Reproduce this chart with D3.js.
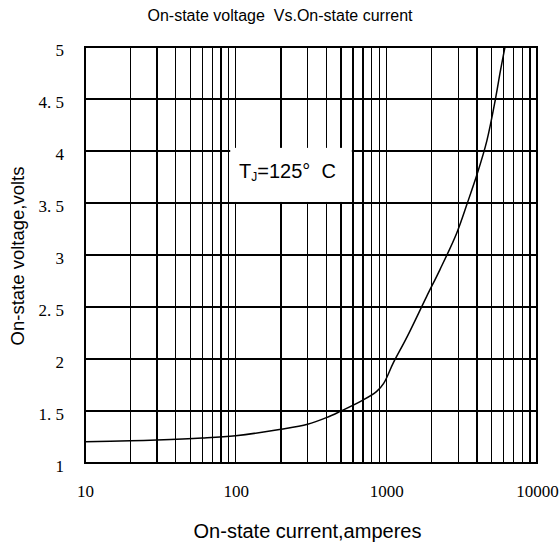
<!DOCTYPE html>
<html>
<head>
<meta charset="utf-8">
<script src="https://cdn.jsdelivr.net/npm/d3@7"></script>
<style>
  html, body { margin: 0; padding: 0; background: #fff; }
  svg { display: block; }
</style>
</head>
<body>
<svg id="chart" width="560" height="548"></svg>
<script>
// ---- data ----
const current = [10, 20, 30, 60, 100, 200, 300, 400, 500, 670, 860, 960, 1110, 1370, 1850, 2270, 2930, 3450, 4050, 4650, 5300, 5700, 6130];
const voltage = [1.205, 1.214, 1.221, 1.24, 1.263, 1.324, 1.372, 1.436, 1.5, 1.59, 1.686, 1.766, 1.96, 2.21, 2.6, 2.86, 3.21, 3.5, 3.8, 4.1, 4.5, 4.76, 5.0];
const xTickValues = [10, 100, 1000, 10000];
const xTickLabels = ["10", "100", "1000", "10000"];
const yTickValues = [1, 1.5, 2, 2.5, 3, 3.5, 4, 4.5, 5];
const yTickLabels = ["1", "1. 5", "2", "2. 5", "3", "3. 5", "4", "4. 5", "5"];
const titleText = "On-state voltage  Vs.On-state current";
const xTitle = "On-state current,amperes";
const yTitle = "On-state voltage,volts";
const annotation = { main: "T", sub: "J", rest: "=125\u00B0  C" };

// ---- layout ----
const svg = d3.select("#chart");
const L = 85, R = 537, T = 47, B = 463;

const x = d3.scaleLog().domain([10, 10000]).range([L, R]);
const y = d3.scaleLinear().domain([1, 5]).range([B, T]);

// minor grid values (log decades)
const xGrid = [];
for (let d = 10; d < 10000; d *= 10) {
  for (let k = 1; k <= 9; k++) xGrid.push(d * k);
}
xGrid.push(10000);

const grid = svg.append("g").attr("stroke", "#000").attr("stroke-width", 1.3).attr("shape-rendering", "crispEdges");
grid.selectAll("line.v").data(xGrid).join("line")
  .attr("x1", d => x(d)).attr("x2", d => x(d))
  .attr("y1", T).attr("y2", B);
grid.selectAll("line.h").data(yTickValues).join("line")
  .attr("x1", L).attr("x2", R)
  .attr("y1", d => y(d)).attr("y2", d => y(d));

// annotation box (white background hiding grid)
svg.append("rect")
  .attr("x", x(92)).attr("y", y(4.03))
  .attr("width", x(590) - x(92)).attr("height", y(3.51) - y(4.03))
  .attr("fill", "#fff");

// frame
svg.append("rect")
  .attr("x", L).attr("y", T).attr("width", R - L).attr("height", B - T)
  .attr("fill", "none").attr("stroke", "#000").attr("stroke-width", 1.3)
  .attr("shape-rendering", "crispEdges");

// curve
const pts = current.map((c, i) => [c, voltage[i]]);
svg.append("path")
  .datum(pts)
  .attr("fill", "none").attr("stroke", "#000").attr("stroke-width", 1.5)
  .attr("d", d3.line().x(d => x(d[0])).y(d => y(d[1])).curve(d3.curveCatmullRom.alpha(0.5)));

// annotation text
const ann = svg.append("text")
  .attr("x", 239).attr("y", 178)
  .attr("font-family", "Liberation Sans, Arial, sans-serif")
  .attr("font-size", 20).attr("fill", "#000")
  .style("white-space", "pre");
ann.append("tspan").text(annotation.main);
ann.append("tspan").attr("font-size", 12).attr("dy", 3).text(annotation.sub);
ann.append("tspan").attr("dy", -3).text(annotation.rest);

// axes tick labels
const xAxis = d3.axisBottom(x).tickValues(xTickValues).tickSize(0)
  .tickFormat((d, i) => xTickLabels[i]);
const gx = svg.append("g").attr("transform", `translate(0,${B})`).call(xAxis);
gx.select(".domain").remove();
gx.selectAll("text")
  .attr("font-family", "Liberation Serif, Times New Roman, serif")
  .attr("font-size", 17).attr("fill", "#000")
  .attr("dy", null).attr("y", 34);

const yAxis = d3.axisLeft(y).tickValues(yTickValues).tickSize(0)
  .tickFormat((d, i) => yTickLabels[i]);
const gy = svg.append("g").attr("transform", `translate(64,0)`).call(yAxis);
gy.select(".domain").remove();
gy.selectAll("text")
  .attr("font-family", "Liberation Serif, Times New Roman, serif")
  .attr("font-size", 17).attr("fill", "#000")
  .attr("x", 0).attr("dy", "0.32em")
  .attr("transform", "translate(0,3)")
  .style("white-space", "pre");

// titles
svg.append("text")
  .attr("x", 280).attr("y", 21).attr("text-anchor", "middle")
  .attr("font-family", "Liberation Sans, Arial, sans-serif")
  .attr("font-size", 16).style("white-space", "pre")
  .text(titleText);

svg.append("text")
  .attr("x", 307.5).attr("y", 538).attr("text-anchor", "middle")
  .attr("font-family", "Liberation Sans, Arial, sans-serif")
  .attr("font-size", 20)
  .text(xTitle);

svg.append("text")
  .attr("transform", "translate(24,256) rotate(-90)")
  .attr("text-anchor", "middle")
  .attr("font-family", "Liberation Sans, Arial, sans-serif")
  .attr("font-size", 18.5)
  .text(yTitle);
</script>
</body>
</html>
